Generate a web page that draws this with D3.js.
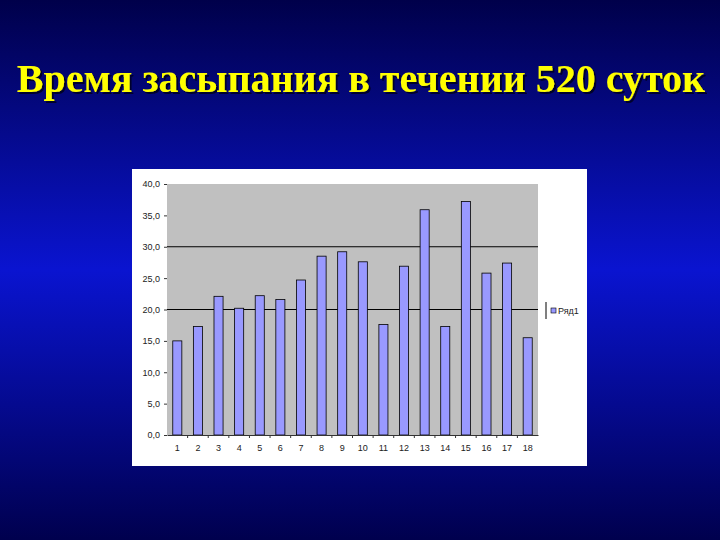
<!DOCTYPE html>
<html>
<head>
<meta charset="utf-8">
<script src="https://cdn.jsdelivr.net/npm/d3@7"></script>
<style>
    html, body { margin: 0; padding: 0; }
    body { width: 720px; height: 540px; overflow: hidden; }
</style>
</head>
<body>
<svg id="chart"></svg>
<script>
const width = 720, height = 540;

// Data
const days = ["1", "2", "3", "4", "5", "6", "7", "8", "9", "10", "11", "12", "13", "14", "15", "16", "17", "18"];
const sleepTimes = [15.0, 17.3, 22.1, 20.2, 22.2, 21.6, 24.7, 28.5, 29.2, 27.6, 17.6, 26.9, 35.9, 17.3, 37.2, 25.8, 27.4, 15.5];
const yTicks = [0, 5, 10, 15, 20, 25, 30, 35, 40];
const gridValues = [20, 30];
const seriesName = "Ряд1";
const title = "Время засыпания в течении 520 суток";

const svg = d3.select("#chart")
    .attr("width", width)
    .attr("height", height);

// Slide background
const defs = svg.append("defs");
const grad = defs.append("linearGradient")
    .attr("id", "bg")
    .attr("x1", 0).attr("y1", 0).attr("x2", 0).attr("y2", 1);
grad.append("stop").attr("offset", "0%").attr("stop-color", "#00004a");
grad.append("stop").attr("offset", "50%").attr("stop-color", "#0a14d0");
grad.append("stop").attr("offset", "100%").attr("stop-color", "#00004e");

// Title shadow
const shadow = defs.append("filter")
    .attr("id", "shadow")
    .attr("x", "-5%").attr("y", "-20%")
    .attr("width", "110%").attr("height", "140%");
shadow.append("feDropShadow")
    .attr("dx", 2).attr("dy", 2)
    .attr("stdDeviation", 0.6)
    .attr("flood-color", "#000020")
    .attr("flood-opacity", 0.9);

svg.append("rect")
    .attr("width", width)
    .attr("height", height)
    .attr("fill", "url(#bg)");

svg.append("text")
    .attr("x", 361).attr("y", 92)
    .attr("font-family", "'Liberation Serif', 'Times New Roman', serif")
    .attr("font-weight", "bold")
    .attr("font-size", 40)
    .attr("text-anchor", "middle")
    .attr("fill", "#ffff00")
    .attr("filter", "url(#shadow)")
    .text(title);

// White chart panel
svg.append("rect")
    .attr("x", 132).attr("y", 169)
    .attr("width", 455).attr("height", 297)
    .attr("fill", "#ffffff");

const plot = { left: 167, right: 538, top: 184, bottom: 435 };

const x = d3.scaleBand()
    .domain(days)
    .range([plot.left, plot.right])
    .paddingInner(0.56)
    .paddingOuter(0.28);

const y = d3.scaleLinear()
    .domain([0, 40])
    .range([plot.bottom, plot.top]);

// Plot area
svg.append("rect")
    .attr("x", plot.left).attr("y", plot.top)
    .attr("width", plot.right - plot.left)
    .attr("height", plot.bottom - plot.top)
    .attr("fill", "#c0c0c0");

// Gridlines
svg.append("g")
    .selectAll("line")
    .data(gridValues)
    .join("line")
    .attr("x1", plot.left).attr("x2", plot.right)
    .attr("y1", d => y(d)).attr("y2", d => y(d))
    .attr("stroke", "#000")
    .attr("stroke-width", 1.2);

// Bars
svg.append("g")
    .selectAll("rect")
    .data(sleepTimes)
    .join("rect")
    .attr("x", (d, i) => x(days[i]))
    .attr("y", d => y(d))
    .attr("width", x.bandwidth())
    .attr("height", d => y(0) - y(d))
    .attr("fill", "#9999ff")
    .attr("stroke", "#000")
    .attr("stroke-width", 0.8);

// Y axis
const yAxis = svg.append("g")
    .attr("transform", `translate(${plot.left},0)`)
    .call(d3.axisLeft(y)
        .tickValues(yTicks)
        .tickSize(3)
        .tickPadding(4)
        .tickFormat(d => d3.format(".1f")(d).replace(".", ",")));
yAxis.select(".domain").remove();
yAxis.selectAll("line").attr("stroke", "#333");
yAxis.selectAll("text")
    .attr("font-family", "'Liberation Sans', Arial, sans-serif")
    .attr("font-size", 9)
    .attr("fill", "#222");

// X axis
const xAxis = svg.append("g")
    .attr("transform", `translate(0,${plot.bottom})`)
    .call(d3.axisBottom(x).tickSize(0).tickPadding(10));
xAxis.select(".domain").attr("stroke", "#333");
xAxis.selectAll("text")
    .attr("font-family", "'Liberation Sans', Arial, sans-serif")
    .attr("font-size", 9)
    .attr("fill", "#222");

// category separators below the axis
const step = x.step();
svg.append("g")
    .selectAll("line")
    .data(days.slice(1))
    .join("line")
    .attr("x1", d => x(d) - (step - x.bandwidth()) / 2)
    .attr("x2", d => x(d) - (step - x.bandwidth()) / 2)
    .attr("y1", plot.bottom)
    .attr("y2", plot.bottom + 3)
    .attr("stroke", "#333");

// Legend
const legend = svg.append("g").attr("transform", "translate(546,302)");
legend.append("line")
    .attr("x1", 0).attr("x2", 0)
    .attr("y1", 0).attr("y2", 17)
    .attr("stroke", "#000");
legend.append("rect")
    .attr("x", 5).attr("y", 6)
    .attr("width", 5).attr("height", 5)
    .attr("fill", "#9999ff")
    .attr("stroke", "#000")
    .attr("stroke-width", 0.6);
legend.append("text")
    .attr("x", 12).attr("y", 11.5)
    .attr("font-family", "'Liberation Sans', Arial, sans-serif")
    .attr("font-size", 9)
    .attr("fill", "#222")
    .text(seriesName);
</script>
</body>
</html>
